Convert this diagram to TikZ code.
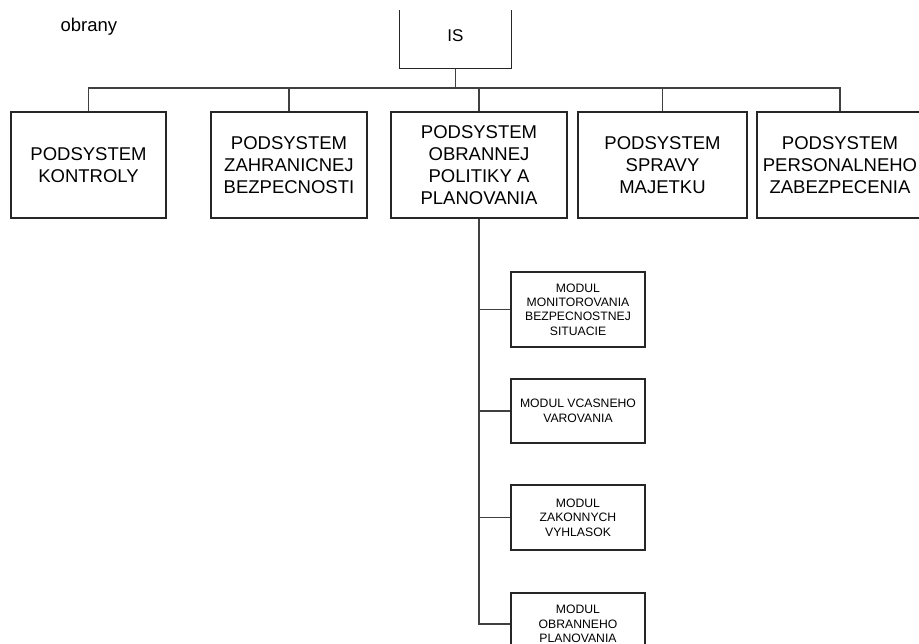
\documentclass[tikz,border=0pt]{standalone}
\usepackage{fontspec}
\setmainfont{Liberation Sans}
\begin{document}
\begin{tikzpicture}[x=1pt,y=-1pt,
  box/.style={draw=black!85, line width=1.3pt, rectangle, inner sep=0pt, align=center, text=black},
  subsys/.style={box, minimum height=106pt, font=\fontsize{18.5}{22}\selectfont},
  modul/.style={box, minimum width=134pt, font=\fontsize{12.2}{14.4}\selectfont},
  link/.style={draw=black!75, line width=1.3pt}]
\useasboundingbox (0,0) rectangle (919,644);
\clip (0,0) rectangle (919,644);

% title and root
\node[font=\fontsize{18.5}{22}\selectfont, anchor=west] (title) at (57,27) {obrany};
\node[box, draw=none, minimum width=111pt, minimum height=64pt,
      font=\fontsize{17}{20}\selectfont] (IS) at (455.5,36) {IS};
\draw[black!85, line width=1.3pt] ([yshift=-7pt]IS.north west) -- (IS.south west)
  -- (IS.south east) -- ([yshift=-7pt]IS.north east);

% subsystems
\node[subsys, minimum width=155pt] (b1) at (88.5,165) {PODSYSTEM\\KONTROLY};
\node[subsys, minimum width=156pt] (b2) at (289,165) {PODSYSTEM\\ZAHRANICNEJ\\BEZPECNOSTI};
\node[subsys, minimum width=176pt] (b3) at (479,165) {PODSYSTEM\\OBRANNEJ\\POLITIKY A\\PLANOVANIA};
\node[subsys, minimum width=169pt] (b4) at (662.5,165) {PODSYSTEM\\SPRAVY\\MAJETKU};
\node[subsys, minimum width=166pt] (b5) at (840,165) {PODSYSTEM\\PERSONALNEHO\\ZABEZPECENIA};

% modules
\node[modul, minimum height=75pt] (m1) at (578,309.5) {MODUL\\MONITOROVANIA\\BEZPECNOSTNEJ\\SITUACIE};
\node[modul, minimum height=64pt] (m2) at (578,411) {MODUL VCASNEHO\\VAROVANIA};
\node[modul, minimum height=65pt] (m3) at (578,517.5) {MODUL\\ZAKONNYCH\\VYHLASOK};
\node[modul, minimum height=62pt] (m4) at (578,624) {MODUL\\OBRANNEHO\\PLANOVANIA};

% root to subsystems
\coordinate (bus) at (455.5,88);
\draw[link] (IS.south) -- (bus);
\draw[link] (b1.north) -- (b1.north |- bus) -- (b5.north |- bus) -- (b5.north);
\draw[link] (b2.north) -- (b2.north |- bus);
\draw[link] (b3.north) -- (b3.north |- bus);
\draw[link] (b4.north) -- (b4.north |- bus);

% subsystem to modules
\draw[link] (b3.south) |- (m4.west);
\draw[link] (b3.south |- m1.west) -- (m1.west);
\draw[link] (b3.south |- m2.west) -- (m2.west);
\draw[link] (b3.south |- m3.west) -- (m3.west);
\end{tikzpicture}
\end{document}
